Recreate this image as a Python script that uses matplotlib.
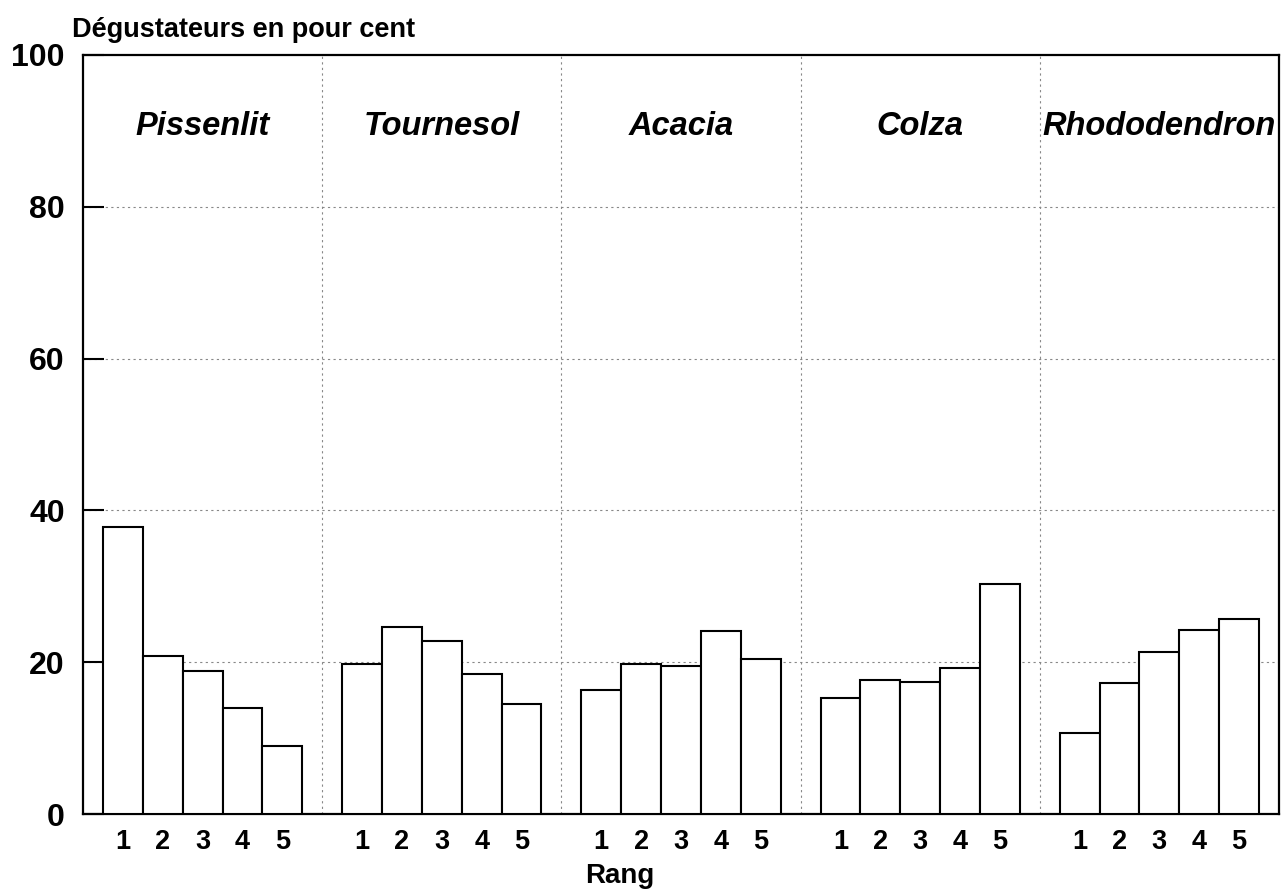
import numpy as np
import matplotlib
matplotlib.use("Agg")
import matplotlib.pyplot as plt

# data
categories = ["Pissenlit", "Tournesol", "Acacia", "Colza", "Rhododendron"]
ranks = [1, 2, 3, 4, 5]
pissenlit = [37.8, 20.8, 18.9, 13.9, 8.9]
tournesol = [19.8, 24.7, 22.8, 18.4, 14.5]
acacia = [16.3, 19.7, 19.5, 24.1, 20.4]
colza = [15.3, 17.6, 17.4, 19.2, 30.3]
rhododendron = [10.7, 17.2, 21.4, 24.3, 25.7]
series = [pissenlit, tournesol, acacia, colza, rhododendron]
yticks = [0, 20, 40, 60, 80, 100]

plt.rcParams["font.family"] = ["Liberation Sans", "DejaVu Sans"]

fig = plt.figure(figsize=(12.85, 8.93), dpi=100)
ax = fig.add_axes([83 / 1285, 1 - 814 / 893, 1196 / 1285, 759 / 893])

group_w = len(ranks) + 1
xpos, xlab = [], []
for g, vals in enumerate(series):
    x = [g * group_w + r for r in ranks]
    ax.bar(x, vals, width=1.0, color="white", edgecolor="black",
           linewidth=1.5, zorder=3)
    xpos += x
    xlab += [str(r) for r in ranks]
    ax.text(g * group_w + group_w / 2, 90.6, categories[g], ha="center",
            va="center", fontsize=23.5, fontweight="bold", style="italic",
            zorder=4)

ax.set_xlim(0, group_w * len(categories))
ax.set_ylim(0, 100)

# dotted grid: horizontal at y ticks, vertical between groups
for y in yticks[1:-1]:
    ax.axhline(y, color="#888888", lw=0.8, ls=(0, (2, 3)), zorder=1)
for g in range(1, len(categories)):
    ax.axvline(g * group_w, color="#888888", lw=0.8, ls=(0, (2, 3)), zorder=1)

ax.set_yticks(yticks)
ax.set_yticklabels([str(v) for v in yticks], fontsize=23, fontweight="bold")
ax.tick_params(axis="y", direction="in", length=15, width=1.5, pad=13)
ax.set_xticks(xpos)
ax.set_xticklabels(xlab, fontsize=19.5, fontweight="bold")
ax.tick_params(axis="x", length=0, pad=11)

for s in ax.spines.values():
    s.set_linewidth(1.6)

fig.text(72 / 1285, 1 - 30 / 893, "Dégustateurs en pour cent", fontsize=19.5,
         fontweight="bold", ha="left", va="center")
fig.text(620 / 1285, 1 - 876 / 893, "Rang", fontsize=20, fontweight="bold",
         ha="center", va="center")

fig.savefig("out.png", dpi=100, facecolor="white")
